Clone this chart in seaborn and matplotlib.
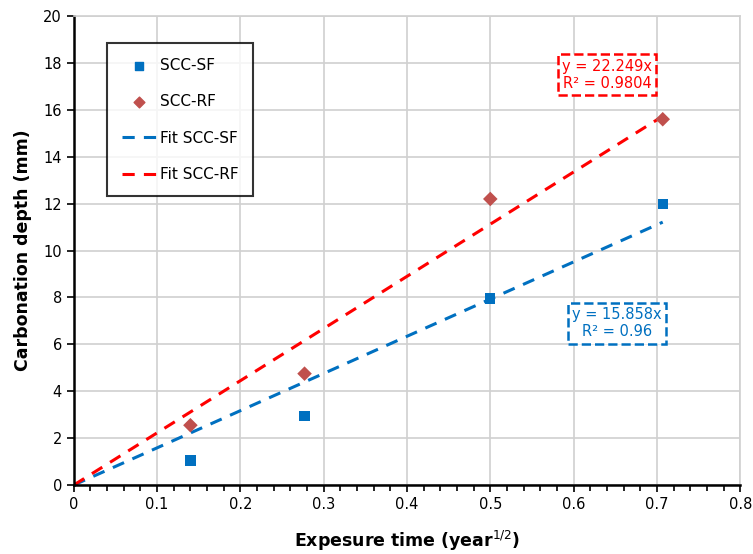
import numpy as np
import pandas as pd
import matplotlib.pyplot as plt
import seaborn as sns

# exposure time (sqrt years) and carbonation depth (mm)
time_sf = [0.14, 0.277, 0.5, 0.707]
depth_sf = [1.05, 2.95, 7.95, 12.0]
time_rf = [0.14, 0.277, 0.5, 0.707]
depth_rf = [2.55, 4.75, 12.2, 15.6]
slope_sf = 15.858
slope_rf = 22.249
fit_x = [0, 0.707]

df = pd.DataFrame({'time': time_sf + time_rf,
                   'depth': depth_sf + depth_rf,
                   'mix': ['SCC-SF'] * 4 + ['SCC-RF'] * 4})

sns.set_style('white')
plt.rcParams['font.family'] = ['DejaVu Sans']
plt.rcParams['text.color'] = 'black'
plt.rcParams['axes.labelcolor'] = 'black'

fig = plt.figure(figsize=(7.53, 5.54), dpi=100)
ax = fig.add_axes([0.098, 0.1245, 0.885, 0.8465])

blue = '#0070C0'
brown = '#C0504D'

sns.scatterplot(data=df, x='time', y='depth', hue='mix', style='mix',
                markers={'SCC-SF': 's', 'SCC-RF': 'D'},
                palette={'SCC-SF': blue, 'SCC-RF': brown},
                s=[55] * 8, edgecolor='none', ax=ax, zorder=3, legend=False)
ax.scatter([], [], marker='s', color=blue, s=40, label='SCC-SF')
ax.scatter([], [], marker='D', color=brown, s=30, label='SCC-RF')

fx = np.array(fit_x)
ax.plot(fx, slope_sf * fx, ls=(0, (4, 3)), color=blue, lw=2.2, label='Fit SCC-SF', zorder=2)
ax.plot(fx, slope_rf * fx, ls=(0, (4, 3)), color='red', lw=2.2, label='Fit SCC-RF', zorder=2)

ax.set_xlim(0, 0.8)
ax.set_ylim(0, 20)
ax.set_xticks(np.arange(0, 0.81, 0.1))
ax.set_xticklabels(['0', '0.1', '0.2', '0.3', '0.4', '0.5', '0.6', '0.7', '0.8'])
ax.set_xticks(np.arange(0, 0.81, 0.02), minor=True)
ax.set_yticks(range(0, 21, 2))
ax.grid(True, color='#D0D0D0', lw=1.2)
ax.tick_params(axis='both', which='major', direction='out', length=5, width=1.2,
               labelsize=10.5, color='black', labelcolor='black', bottom=True, left=True)
ax.tick_params(axis='x', which='minor', direction='out', length=4, width=1.2,
               color='black', bottom=True)
for s in ['left', 'bottom']:
    ax.spines[s].set_color('black')
    ax.spines[s].set_linewidth(1.8)
for s in ['top', 'right']:
    ax.spines[s].set_color('#D0D0D0')
    ax.spines[s].set_linewidth(1.2)

ax.set_xlabel('Expesure time (year$^{1/2}$)', fontsize=12.5, fontweight='bold', labelpad=12)
ax.set_ylabel('Carbonation depth (mm)', fontsize=12.5, fontweight='bold', labelpad=8)

leg = ax.legend(loc='upper left', bbox_to_anchor=(0.05, 0.942), frameon=True,
                fancybox=False, edgecolor='black', fontsize=11, labelspacing=1.4,
                handlelength=2.3, handletextpad=0.2, borderpad=0.95, borderaxespad=0)
leg.get_frame().set_linewidth(1.5)
for t in leg.get_texts():
    t.set_color('black')

ax.text(0.64, 17.5, 'y = 22.249x\nR² = 0.9804', color='red', fontsize=10.5,
        ha='center', va='center', linespacing=1.15,
        bbox=dict(boxstyle='square,pad=0.3', fc='white', ec='red', ls='--', lw=1.8))
ax.text(0.652, 6.9, 'y = 15.858x\nR² = 0.96', color=blue, fontsize=10.5,
        ha='center', va='center', linespacing=1.15,
        bbox=dict(boxstyle='square,pad=0.3', fc='white', ec=blue, ls='--', lw=1.8))

fig.savefig('out.png', dpi=100)
